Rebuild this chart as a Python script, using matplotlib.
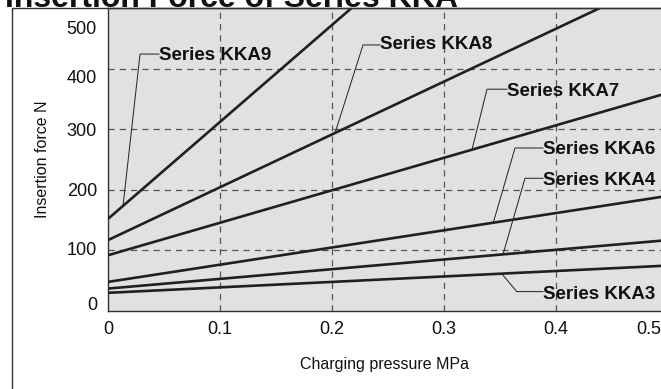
import numpy as np
import matplotlib
matplotlib.use('Agg')
import matplotlib.pyplot as plt
from matplotlib.lines import Line2D
from matplotlib.transforms import ScaledTranslation

plt.rcParams['font.family'] = ['Liberation Sans', 'DejaVu Sans']

# Insertion force vs charging pressure (straight lines)
pressure = [0.0, 0.5]
series_names = ['Series KKA9', 'Series KKA8', 'Series KKA7',
                'Series KKA6', 'Series KKA4', 'Series KKA3']
kka9 = [152, 952]
kka8 = [117, 553]
kka7 = [92, 360]
kka6 = [48, 190]
kka4 = [37, 117]
kka3 = [30, 75]
forces = [kka9, kka8, kka7, kka6, kka4, kka3]

x_ticks = [0, 0.1, 0.2, 0.3, 0.4, 0.5]
y_ticks = [0, 100, 200, 300, 400, 500]

# leader layout: (anchor x on line, elbow x, elbow y, text x, text y)
leaders = [
    (0.0134, 0.0286, 424, 0.0455, 422),
    (0.2027, 0.2277, 439, 0.2429, 439),
    (0.3250, 0.3384, 366, 0.3563, 363),
    (0.3440, 0.3634, 269, 0.3884, 266),
    (0.3527, 0.3723, 219, 0.3884, 216),
    (0.3515, 0.3650, 32, 0.3884, 28),
]

W, H = 661, 389
fig = plt.figure(figsize=(W / 100, H / 100), dpi=100)
ax = fig.add_axes([108 / W, 1 - 311 / H, 553 / W, 303 / H])
ax.set_facecolor('#e0e1e3')

xmax = 553 / 1120
ax.set_xlim(0, xmax)
ax.set_ylim(0, 500)

ink = '#231f20'
for f in forces:
    ax.plot(pressure, f, color=ink, lw=1.9, zorder=3, solid_capstyle='butt')

for name, f, (ax_x, ex, ey, tx, ty) in zip(series_names, forces, leaders):
    ay = np.interp(ax_x, pressure, f)
    ax.plot([ax_x, ex, tx], [ay, ey, ey], color=ink, lw=0.7, zorder=4)
    ax.text(tx, ty, name, ha='left', va='center', fontsize=13.5,
            fontweight='bold', color='#111111', zorder=5)

# dashed grid
for gx in x_ticks[1:5]:
    ax.axvline(gx, color='#555555', lw=0.9, ls=(0, (5, 4)), zorder=1)
for gy in y_ticks[1:5]:
    ax.axhline(gy, color='#555555', lw=0.9, ls=(0, (5, 4)), zorder=1)

ax.set_xticks(x_ticks[:5] + [xmax])
ax.set_xticklabels(['0', '0.1', '0.2', '0.3', '0.4', '0.5'])
ax.get_xticklabels()[-1].set_ha('right')
ax.set_yticks(y_ticks)
ax.set_yticklabels([str(v) for v in y_ticks])
ax.tick_params(length=0, labelsize=13, colors='#111111')
ax.tick_params(axis='x', pad=7)
ax.tick_params(axis='y', pad=8)

# the printed y labels sit a little inside at the ends
y_shift_px = [8, 2, 0, 0, -8, -20]
for lab, dy in zip(ax.get_yticklabels(), y_shift_px):
    lab.set_transform(lab.get_transform() + ScaledTranslation(0, dy / 100, fig.dpi_scale_trans))

ax.set_xlabel('Charging pressure MPa', fontsize=11.5, labelpad=14, color='#111111')
ax.set_ylabel('Insertion force N', fontsize=11.5, labelpad=12, color='#111111')

for s in ['left', 'bottom', 'top']:
    ax.spines[s].set_color('#333333')
    ax.spines[s].set_linewidth(1.0)
ax.spines['right'].set_visible(False)

# outer frame of the catalogue figure
fig.add_artist(Line2D([12 / W, 12 / W, 1], [0, 1 - 8 / H, 1 - 8 / H],
                      transform=fig.transFigure, color='#333333', lw=1.0))

# heading, mostly cut off at the top (as in the source image)
fig.text(5 / W, 1 - 7 / H, 'Insertion Force of Series KKA', fontsize=23,
         fontweight='bold', ha='left', va='baseline', color='#111111')

fig.savefig('out.png', dpi=100)
